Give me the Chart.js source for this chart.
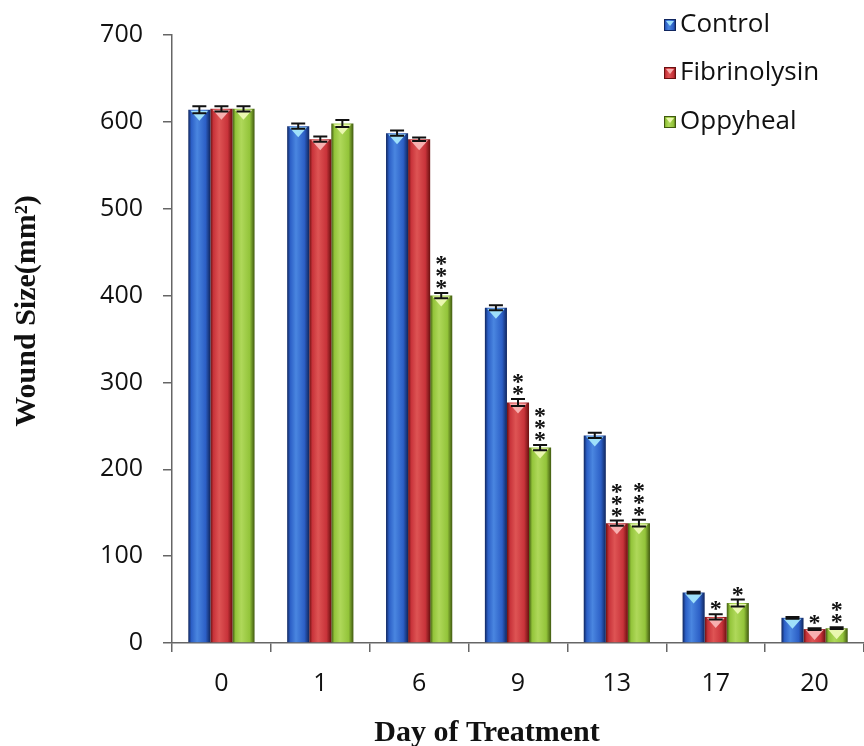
<!DOCTYPE html>
<html><head><meta charset="utf-8">
<script src="https://cdn.jsdelivr.net/npm/chart.js@4/dist/chart.umd.min.js"></script>
<style>html,body{margin:0;padding:0;background:#fff}#wrap{width:864px;height:746px}</style>
</head><body><div id="wrap"><canvas id="c" width="864" height="746"></canvas></div>
<script>
const days = ['0', '1', '6', '9', '13', '17', '20'];
const seriesNames = ['Control', 'Fibrinolysin', 'Oppyheal'];
const control = [614, 595, 587, 386, 239, 58, 29];
const fibrinolysin = [615, 580, 580, 277, 138, 30, 16];
const oppyheal = [615, 598, 400, 225, 138, 46, 17];
const errControl = [4, 3, 3, 3, 3, 1, 1];
const errFibrinolysin = [3, 3, 2, 4, 3, 3, 1];
const errOppyheal = [3, 4, 3, 3, 4, 4, 1];
const sigControl = ['', '', '', '', '', '', ''];
const sigFibrinolysin = ['', '', '', '**', '***', '*', '*'];
const sigOppyheal = ['', '', '***', '***', '***', '*', '**'];
const yTicks = [0, 100, 200, 300, 400, 500, 600, 700];
const yTitle = 'Wound Size(mm²)';
const xTitle = 'Day of Treatment';

const palettes = [
  {edge:'#10265e', mid:'#2c5fc6', light:'#4a86e0', tri:'#9fe0fa'},
  {edge:'#6a1010', mid:'#c8333a', light:'#de5454', tri:'#f7b0b0'},
  {edge:'#40590f', mid:'#93c43a', light:'#afd85a', tri:'#eaf7b0'}
];
const errs = [errControl, errFibrinolysin, errOppyheal];
const sigs = [sigControl, sigFibrinolysin, sigOppyheal];

function barGrad(ctx, x0, x1, p) {
  const g = ctx.createLinearGradient(x0, 0, x1, 0);
  g.addColorStop(0, p.edge);
  g.addColorStop(0.14, p.mid);
  g.addColorStop(0.4, p.light);
  g.addColorStop(0.78, p.mid);
  g.addColorStop(1, p.edge);
  return g;
}

const decor = {
  id: 'decor',
  beforeDatasetsDraw(chart) {
    const ctx = chart.ctx;
    chart.data.datasets.forEach((ds, i) => {
      chart.getDatasetMeta(i).data.forEach(el => {
        const w = el.width;
        el.options = Object.assign({}, el.options, {backgroundColor: barGrad(ctx, el.x - w/2, el.x + w/2, palettes[i])});
      });
    });
  },
  afterDatasetsDraw(chart) {
    const ctx = chart.ctx;
    const ys = chart.scales.y;
    ctx.save();
    chart.data.datasets.forEach((ds, i) => {
      chart.getDatasetMeta(i).data.forEach((el, j) => {
        const w = el.width;
        ctx.fillStyle = palettes[i].tri;
        ctx.beginPath();
        ctx.moveTo(el.x - w*0.4, el.y + 1);
        ctx.lineTo(el.x + w*0.4, el.y + 1);
        ctx.lineTo(el.x, el.y + 11);
        ctx.closePath();
        ctx.fill();
        const v = ds.data[j], e = errs[i][j];
        const yt = ys.getPixelForValue(v + e), yb = ys.getPixelForValue(v - e);
        ctx.strokeStyle = '#111';
        ctx.lineWidth = 2;
        ctx.beginPath();
        ctx.moveTo(el.x, yt); ctx.lineTo(el.x, yb);
        ctx.moveTo(el.x - 7, yt); ctx.lineTo(el.x + 7, yt);
        ctx.moveTo(el.x - 7, yb); ctx.lineTo(el.x + 7, yb);
        ctx.stroke();
        const s = sigs[i][j];
        ctx.fillStyle = '#111';
        ctx.font = 'bold 24px "Liberation Serif"';
        ctx.textAlign = 'center';
        ctx.textBaseline = 'alphabetic';
        for (let k = 0; k < s.length; k++) {
          ctx.fillText('*', el.x, yt + 2 - k * 12);
        }
      });
    });
    ctx.restore();
  },
  afterDraw(chart) {
    const ctx = chart.ctx;
    ctx.save();
    ctx.fillStyle = '#111';
    ctx.font = 'bold 30px "Liberation Serif"';
    ctx.textAlign = 'center'; ctx.textBaseline = 'middle';
    ctx.fillText(xTitle, 487, 733);
    ctx.translate(27, 311); ctx.rotate(-Math.PI/2);
    ctx.fillText(yTitle, 0, 0);
    ctx.restore();
    ctx.save();
    const ys0 = [25, 73, 122];
    chart.data.datasets.forEach((ds, i) => {
      const y = ys0[i];
      const p = palettes[i];
      ctx.fillStyle = barGrad(ctx, 664, 676, p);
      ctx.fillRect(664, y - 6, 12, 12);
      ctx.strokeStyle = p.edge; ctx.lineWidth = 1;
      ctx.strokeRect(664.5, y - 5.5, 11, 11);
      ctx.fillStyle = p.tri;
      ctx.beginPath(); ctx.moveTo(666, y - 4); ctx.lineTo(674, y - 4); ctx.lineTo(670, y + 1); ctx.closePath(); ctx.fill();
      ctx.fillStyle = '#111';
      ctx.font = '26px "Open Sans"';
      ctx.textAlign = 'left'; ctx.textBaseline = 'middle';
      ctx.fillText(ds.label, 680, y);
    });
    ctx.restore();
  }
};

new Chart(document.getElementById('c'), {
  type: 'bar',
  data: {
    labels: days,
    datasets: [
      {label: seriesNames[0], data: control, backgroundColor: palettes[0].mid},
      {label: seriesNames[1], data: fibrinolysin, backgroundColor: palettes[1].mid},
      {label: seriesNames[2], data: oppyheal, backgroundColor: palettes[2].mid}
    ]
  },
  options: {
    responsive: false,
    animation: false,
    layout: {padding: {top: 32, right: 0, left: 0, bottom: 0}},
    datasets: {bar: {categoryPercentage: 0.67, barPercentage: 1.0, borderWidth: 0}},
    plugins: {legend: {display: false}, tooltip: {enabled: false}},
    scales: {
      x: {
        afterFit: s => { s.height = 103; },
        grid: {display: true, drawOnChartArea: false, drawTicks: true, tickLength: 9, color: '#666', lineWidth: 1.5},
        border: {display: true, color: '#666', width: 1.5},
        ticks: {color: '#111', font: {family: 'Open Sans', size: 25}, padding: 17},
        title: {display: false, text: xTitle}
      },
      y: {
        min: 0, max: 700,
        afterFit: s => { s.width = 172; },
        afterBuildTicks: s => { s.ticks = yTicks.map(v => ({value: v})); },
        grid: {display: true, drawOnChartArea: false, drawTicks: true, tickLength: 9, color: '#666', lineWidth: 1.5},
        border: {display: true, color: '#666', width: 1.5},
        ticks: {color: '#111', font: {family: 'Open Sans', size: 25}, padding: 20},
        title: {display: false, text: yTitle}
      }
    }
  },
  plugins: [decor]
});
</script>
</body></html>
